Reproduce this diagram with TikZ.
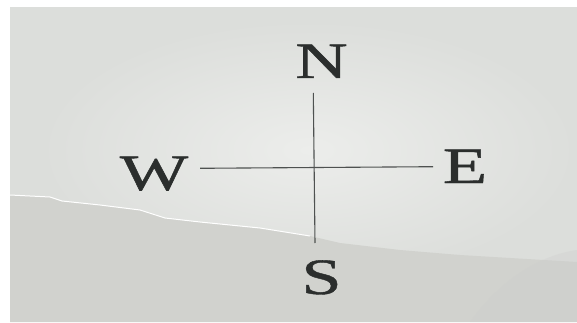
\documentclass[tikz,border=0pt]{standalone}
\usepackage{fontspec}
\setmainfont{Liberation Serif}[FakeBold=0.8]
\definecolor{paper}{HTML}{DCDEDB}
\definecolor{paperlight}{HTML}{ECEDEB}
\definecolor{paperdark}{HTML}{D1D2CE}
\definecolor{ink}{HTML}{2B2E2D}
\definecolor{rule}{HTML}{4E5150}
\tikzset{
  letter/.style={inner sep=0pt, anchor=base, text=ink, font=\fontsize{51}{51}\selectfont},
  crossline/.style={draw=rule, line width=1.1pt}
}
\begin{document}
\begin{tikzpicture}[x=1pt,y=-1pt]
\useasboundingbox (0,0) rectangle (577,323);
\fill[white] (0,0) rectangle (577,323);
% paper
\fill[paper] (10,7) rectangle (577,322);
\shade[inner color=paperlight, outer color=paper] (40,20) rectangle (577,280);
% lower torn region
\fill[paperdark] (10,195) -- (30,196) -- (50,197) -- (62,201) -- (100,205) -- (140,210) -- (165,218) -- (200,222) -- (260,228) -- (310,236) -- (340,243) -- (400,250) -- (460,255) -- (577,262) -- (577,322) -- (10,322) -- cycle;
\draw[white, line width=1pt] (10,195) -- (30,196) -- (50,197) -- (62,201) -- (100,205) -- (140,210) -- (165,218) -- (200,222) -- (260,228) -- (310,236);
\fill[black!20, opacity=0.3] (470,322) .. controls (500,280) and (540,255) .. (577,250) -- (577,322) -- cycle;
% cross
\coordinate (nt) at (313.3,93);
\coordinate (sb) at (315,243);
\coordinate (wl) at (200,168.3);
\coordinate (er) at (433,166.7);
\draw[crossline] (nt) -- (sb);
\draw[crossline] (wl) -- (er);
% letters
\node[letter] (N) at (321.5,78) {\scalebox{1.42}[1]{N}};
\node[letter] (W) at (154,190) {\scalebox{1.42}[1]{W}};
\node[letter] (E) at (465,183) {\scalebox{1.42}[1]{E}};
\node[letter] (S) at (321.5,294) {\scalebox{1.42}[1]{S}};
\end{tikzpicture}
\end{document}
